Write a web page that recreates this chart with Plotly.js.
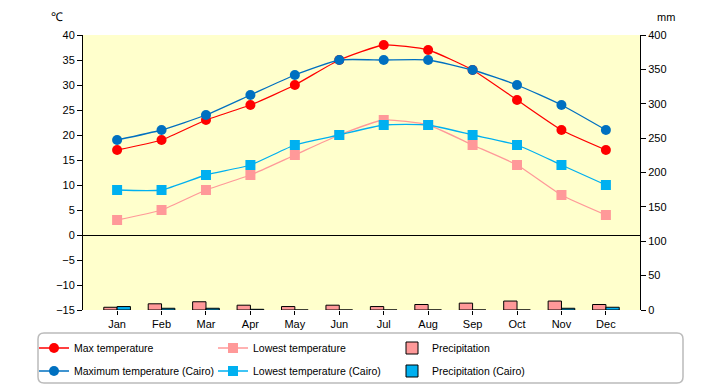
<!DOCTYPE html>
<html><head><meta charset="utf-8">
<script src="https://cdn.plot.ly/plotly-3.0.1.min.js"></script>
<style>html,body{margin:0;padding:0;background:#fff}#chart{width:720px;height:385px}</style>
</head><body><div id="chart"></div>
<script>
const months = ["Jan","Feb","Mar","Apr","May","Jun","Jul","Aug","Sep","Oct","Nov","Dec"];
const maxTemp = [17,19,23,26,30,35,38,37,33,27,21,17];
const lowTemp = [3,5,9,12,16,20,23,22,18,14,8,4];
const precip = [4,9,12,7,5,7,5,8,10,13,13,8];
const maxCairo = [19,21,24,28,32,35,35,35,33,30,26,21];
const lowCairo = [9,9,12,14,18,20,22,22,20,18,14,10];
const precipCairo = [5,2.5,2.5,1,0,0,0,0,0,0,2.5,4];

const F = "Liberation Sans, Arial, sans-serif";
const ln = (name, y, color, sym, leg, rank) => ({
  type:'scatter', mode:'lines+markers', name, x:months, y, yaxis:'y', legend:leg, legendrank:rank,
  line:{color, width:1.3, shape:'spline', smoothing:0.5},
  marker:{color, size:10, symbol:sym}
});
const traces = [
  {type:'bar', name:'Precipitation', x:months, y:precip, yaxis:'y2', legend:'legend', legendrank:3,
   marker:{color:'#FF9999', line:{color:'#000', width:1}}},
  {type:'bar', name:'Precipitation (Cairo)', x:months, y:precipCairo, yaxis:'y2', legend:'legend2', legendrank:3,
   marker:{color:'#00B0F0', line:{color:'#000', width:1}}},
  ln('Max temperature', maxTemp, '#FF0000', 'circle', 'legend', 1),
  ln('Lowest temperature', lowTemp, '#FF9999', 'square', 'legend', 2),
  ln('Maximum temperature (Cairo)', maxCairo, '#0070C0', 'circle', 'legend2', 1),
  ln('Lowest temperature (Cairo)', lowCairo, '#00B0F0', 'square', 'legend2', 2)
];

const px = v => (v-83)/557, py = v => (310-v)/275;
const x0=px(38), x1=px(683), y0=py(333), y1=py(383), rx=6/557, ry=6/275;
const boxPath = `M ${x0+rx} ${y0} L ${x1-rx} ${y0} Q ${x1} ${y0} ${x1} ${y0-ry} L ${x1} ${y1+ry} Q ${x1} ${y1} ${x1-rx} ${y1} L ${x0+rx} ${y1} Q ${x0} ${y1} ${x0} ${y1+ry} L ${x0} ${y0-ry} Q ${x0} ${y0} ${x0+rx} ${y0} Z`;

const legCommon = {orientation:'h', xanchor:'left', yanchor:'middle', x:px(34),
  entrywidth:134, entrywidthmode:'pixels', bgcolor:'rgba(0,0,0,0)', itemwidth:30,
  font:{family:F, size:10.5, color:'#000'}, traceorder:'normal'};

const layout = {
  width:720, height:385,
  margin:{l:83, r:80, t:35, b:75, autoexpand:false},
  paper_bgcolor:'#fff', plot_bgcolor:'#FFFFCC',
  font:{family:F, size:11, color:'#000'},
  barmode:'group', bargap:0.4, bargroupgap:0,
  showlegend:true,
  xaxis:{type:'category', showgrid:false, ticks:'outside', ticklen:4, tickcolor:'#000',
    showline:false, tickfont:{family:F, size:11}},
  yaxis:{range:[-15,40], dtick:5, showgrid:false, ticks:'outside', ticklen:5, tickcolor:'#000',
    showline:true, linecolor:'#000', linewidth:1, zeroline:true, zerolinecolor:'#000', zerolinewidth:1,
    tickfont:{family:F, size:11}},
  yaxis2:{range:[0,400], dtick:50, overlaying:'y', side:'right', showgrid:false, ticks:'outside',
    ticklen:5, tickcolor:'#000', showline:true, linecolor:'#000', linewidth:1, zeroline:false,
    tickfont:{family:F, size:11}},
  legend:Object.assign({}, legCommon, {y:py(348)}),
  legend2:Object.assign({}, legCommon, {y:py(371)}),
  shapes:[{type:'path', xref:'paper', yref:'paper', path:boxPath, line:{color:'#BBBBBB', width:1.5}, fillcolor:'rgba(0,0,0,0)'}],
  annotations:[
    {xref:'paper', yref:'paper', x:px(57), y:py(17), xanchor:'center', yanchor:'middle', text:'℃', showarrow:false, font:{family:F, size:12}},
    {xref:'paper', yref:'paper', x:px(666), y:py(17), xanchor:'center', yanchor:'middle', text:'mm', showarrow:false, font:{family:F, size:11}}
  ]
};
Plotly.newPlot('chart', traces, layout, {displayModeBar:false, staticPlot:true});
</script></body></html>
